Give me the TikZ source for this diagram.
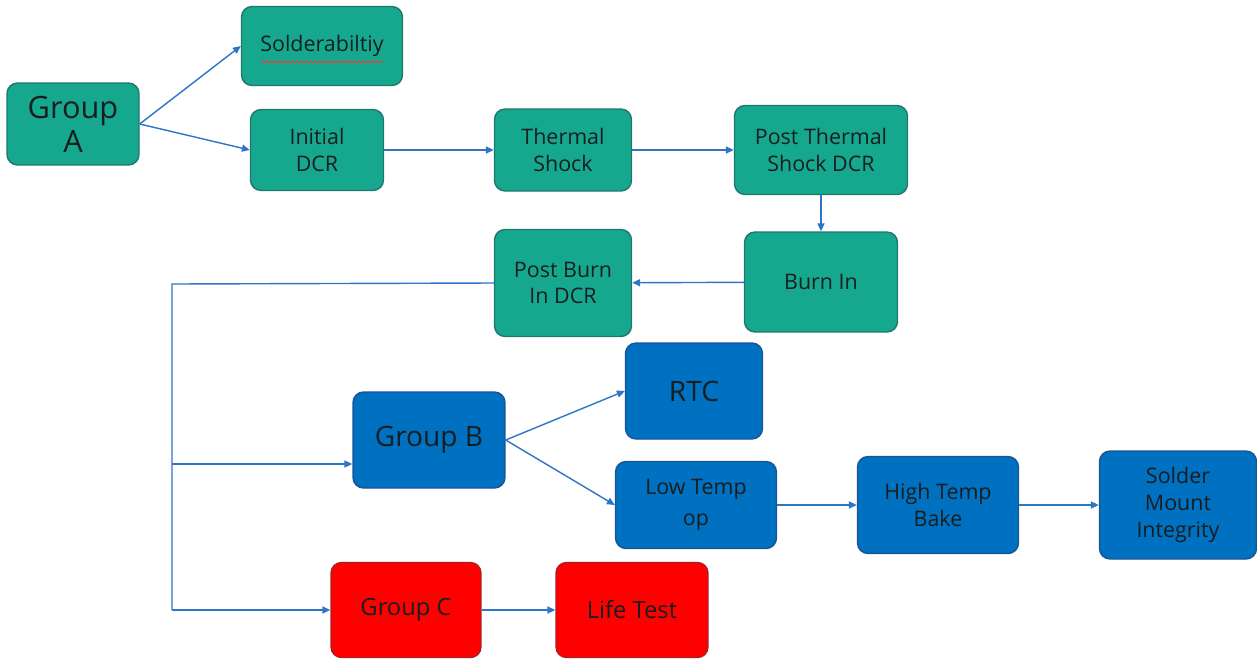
\documentclass[tikz,border=0pt]{standalone}
\usepackage{fontspec}
\setmainfont{Open Sans}
\usetikzlibrary{arrows.meta,decorations.pathmorphing}
\definecolor{tealbox}{RGB}{22,168,142}
\definecolor{tealedge}{RGB}{30,118,108}
\definecolor{bluebox}{RGB}{0,112,192}
\definecolor{blueedge}{RGB}{24,84,150}
\definecolor{redbox}{RGB}{255,0,0}
\definecolor{rededge}{RGB}{175,30,30}
\definecolor{linkblue}{RGB}{46,117,200}
\definecolor{boxtext}{RGB}{22,30,32}

\begin{document}
\begin{tikzpicture}[x=0.02cm,y=-0.02cm]
		\useasboundingbox (0,0) rectangle (1257,660);
		\begin{scope}[every node/.style={rectangle,rounded corners=6pt,draw=tealedge,fill=tealbox,thick,
		              align=center,text=boxtext,inner sep=2pt,font=\fontsize{12.2}{15}\selectfont}]
		    \node[minimum width=2.64cm,minimum height=1.64cm,font=\fontsize{17.5}{19.5}\selectfont] (ga) at (73,124) {Group\\A};
		    \node[minimum width=3.22cm,minimum height=1.58cm] (sold) at (322,46) {Solderabiltiy};
		    \node[minimum width=2.66cm,minimum height=1.62cm] (idcr) at (317,150) {Initial\\DCR};
		    \node[minimum width=2.74cm,minimum height=1.64cm] (tshock) at (563,150) {Thermal\\Shock};
		    \node[minimum width=3.46cm,minimum height=1.78cm] (ptsdcr) at (821,150) {Post Thermal\\Shock DCR};
		    \node[minimum width=3.06cm,minimum height=2.0cm] (burn) at (821,282) {Burn In};
		    \node[minimum width=2.74cm,minimum height=2.14cm] (pbdcr) at (563,283) {Post Burn\\In DCR};
		\end{scope}

		\begin{scope}[every node/.style={rectangle,rounded corners=6pt,draw=blueedge,fill=bluebox,thick,
		              align=center,text=boxtext,inner sep=2pt,font=\fontsize{12.2}{15.4}\selectfont}]
		    \node[minimum width=3.04cm,minimum height=1.92cm,font=\fontsize{16}{19}\selectfont] (gb) at (429,440) {Group B};
		    \node[minimum width=2.74cm,minimum height=1.92cm,font=\fontsize{16}{19}\selectfont] (rtc) at (694,391) {RTC};
		    \node[minimum width=3.22cm,minimum height=1.74cm,font=\fontsize{12.2}{17.6}\selectfont] (ltop) at (696,505) {Low Temp\\op};
		    \node[minimum width=3.22cm,minimum height=1.94cm] (htbake) at (938,505) {High Temp\\Bake};
		    \node[minimum width=3.14cm,minimum height=2.16cm] (smi) at (1178,505) {Solder\\Mount\\Integrity};
		\end{scope}

		\begin{scope}[every node/.style={rectangle,rounded corners=6pt,draw=rededge,fill=redbox,thick,
		              align=center,text=boxtext,inner sep=2pt,font=\fontsize{13.5}{16}\selectfont}]
		    \node[minimum width=3.0cm,minimum height=1.9cm] (gc) at (406,610) {Group C};
		    \node[minimum width=3.04cm,minimum height=1.9cm] (life) at (632,610) {Life Test};
		\end{scope}

		% spell-check underline
		\draw[red!80!white,line width=0.5pt,decorate,decoration={snake,amplitude=0.5pt,segment length=2.5pt}]
		    ([xshift=-1.22cm,yshift=-0.32cm]sold.center) -- ([xshift=1.22cm,yshift=-0.32cm]sold.center);

		\coordinate (bend) at (172,284);
		\coordinate (jb) at (172,464);
		\coordinate (jc) at (172,610);

		\begin{scope}[>={Triangle[length=4.5pt,width=4pt]},
		              every edge/.style={draw=linkblue,line width=0.8pt,->}]
		    \path (ga.east) edge (sold.west);
		    \path (ga.east) edge (idcr.west);
		    \path (idcr) edge (tshock);
		    \path (tshock) edge (ptsdcr);
		    \path (ptsdcr) edge (burn);
		    \path (burn) edge (pbdcr);
		    \draw[linkblue,line width=0.8pt] (pbdcr.west) -- (bend) -- (jc);
		    \path (jb) edge (jb -| gb.west);
		    \path (jc) edge (gc.west);
		    \path (gb.east) edge (rtc.west);
		    \path (gb.east) edge (ltop.west);
		    \path (ltop) edge (htbake);
		    \path (htbake) edge (smi);
		    \path (gc) edge (life);
		\end{scope}
\end{tikzpicture}
\end{document}
